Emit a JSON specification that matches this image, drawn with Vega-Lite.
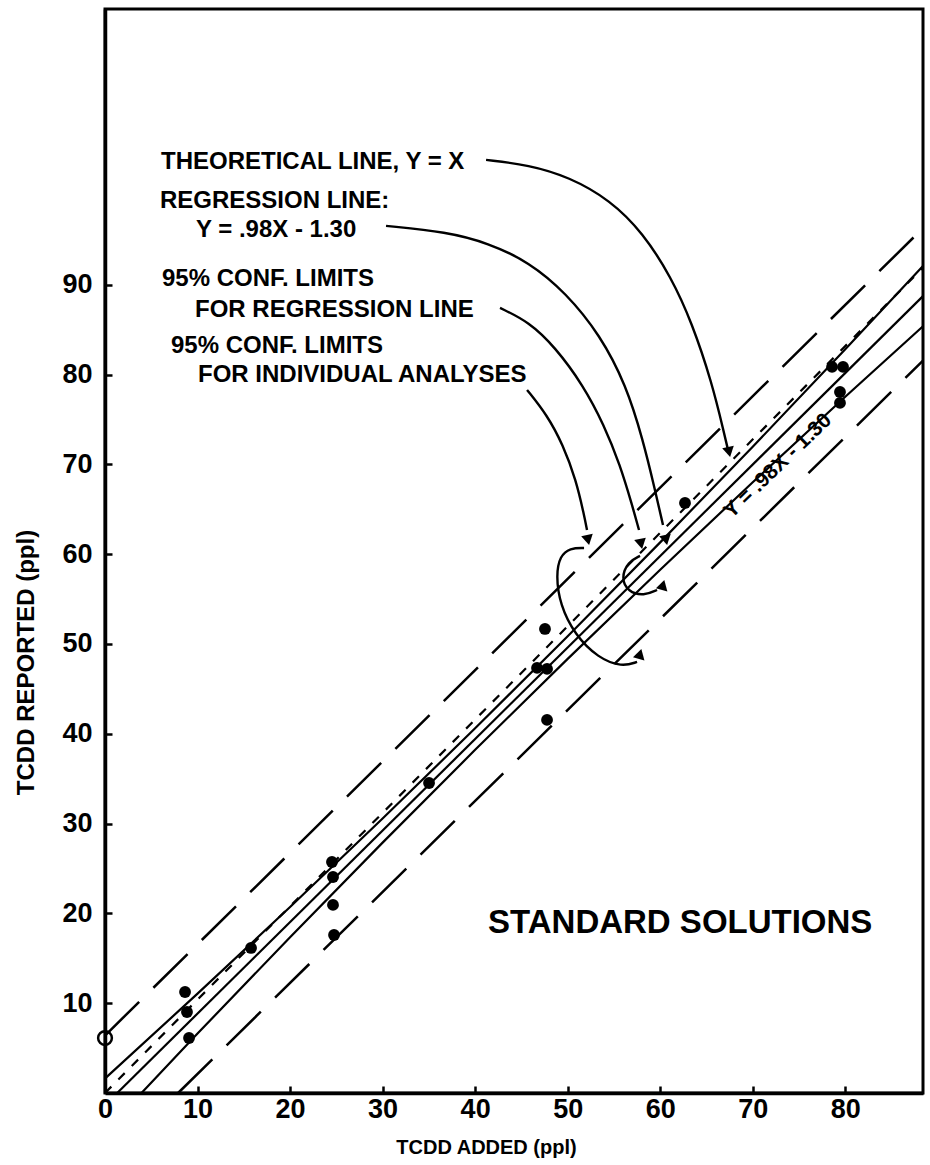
{
  "$schema": "https://vega.github.io/schema/vega-lite/v6.json",
  "width": 818,
  "height": 1084,
  "autosize": {"type": "none"},
  "padding": {"left": 105, "top": 9, "right": 7, "bottom": 72},
  "background": "white",
  "config": {"view": {"stroke": "black", "strokeWidth": 3}, "font": "Liberation Sans"},
  "datasets": {
    "lines": [
      {"series": "theory", "i": 0, "x": 0, "y": 0},
      {"series": "theory", "i": 1, "x": 88.4, "y": 91.9},
      {"series": "regression", "i": 0, "x": 1.32, "y": 0},
      {"series": "regression", "i": 1, "x": 88.4, "y": 88.73},
      {"series": "ucl", "i": 0, "x": 0, "y": 1.61},
      {"series": "ucl", "i": 1, "x": 10, "y": 11.06},
      {"series": "ucl", "i": 2, "x": 20, "y": 20.71},
      {"series": "ucl", "i": 3, "x": 30, "y": 30.56},
      {"series": "ucl", "i": 4, "x": 40, "y": 40.61},
      {"series": "ucl", "i": 5, "x": 50, "y": 50.86},
      {"series": "ucl", "i": 6, "x": 60, "y": 61.31},
      {"series": "ucl", "i": 7, "x": 70, "y": 71.96},
      {"series": "ucl", "i": 8, "x": 80, "y": 82.81},
      {"series": "ucl", "i": 9, "x": 88.4, "y": 92.08},
      {"series": "lcl", "i": 0, "x": 3.94, "y": 0},
      {"series": "lcl", "i": 1, "x": 10, "y": 6.62},
      {"series": "lcl", "i": 2, "x": 20, "y": 17.35},
      {"series": "lcl", "i": 3, "x": 30, "y": 27.88},
      {"series": "lcl", "i": 4, "x": 40, "y": 38.21},
      {"series": "lcl", "i": 5, "x": 50, "y": 48.34},
      {"series": "lcl", "i": 6, "x": 60, "y": 58.27},
      {"series": "lcl", "i": 7, "x": 70, "y": 68.0},
      {"series": "lcl", "i": 8, "x": 80, "y": 77.53},
      {"series": "lcl", "i": 9, "x": 88.4, "y": 85.38},
      {"series": "ui", "i": 0, "x": 0, "y": 6.4},
      {"series": "ui", "i": 1, "x": 88.4, "y": 96.3},
      {"series": "li", "i": 0, "x": 7.9, "y": 0},
      {"series": "li", "i": 1, "x": 88.4, "y": 81.55}
    ],
    "curves": [
      {"curve": "theory", "i": 0, "x": 41.18, "y": 103.9},
      {"curve": "theory", "i": 1, "x": 45.82, "y": 103.34},
      {"curve": "theory", "i": 2, "x": 50.15, "y": 102.0},
      {"curve": "theory", "i": 3, "x": 54.58, "y": 99.44},
      {"curve": "theory", "i": 4, "x": 58.14, "y": 95.77},
      {"curve": "theory", "i": 5, "x": 61.17, "y": 90.87},
      {"curve": "theory", "i": 6, "x": 63.44, "y": 85.75},
      {"curve": "theory", "i": 7, "x": 65.6, "y": 79.06},
      {"curve": "theory", "i": 8, "x": 66.9, "y": 73.5},
      {"curve": "theory", "i": 9, "x": 67.33, "y": 71.6},
      {"curve": "reg", "i": 0, "x": 30.37, "y": 96.55},
      {"curve": "reg", "i": 1, "x": 36.96, "y": 95.88},
      {"curve": "reg", "i": 2, "x": 41.39, "y": 94.65},
      {"curve": "reg", "i": 3, "x": 45.82, "y": 92.54},
      {"curve": "reg", "i": 4, "x": 49.82, "y": 89.09},
      {"curve": "reg", "i": 5, "x": 53.5, "y": 84.41},
      {"curve": "reg", "i": 6, "x": 56.31, "y": 78.84},
      {"curve": "reg", "i": 7, "x": 58.14, "y": 72.72},
      {"curve": "reg", "i": 8, "x": 59.44, "y": 67.15},
      {"curve": "reg", "i": 9, "x": 60.3, "y": 63.25},
      {"curve": "forreg", "i": 0, "x": 42.69, "y": 87.42},
      {"curve": "forreg", "i": 1, "x": 45.82, "y": 85.86},
      {"curve": "forreg", "i": 2, "x": 48.63, "y": 83.07},
      {"curve": "forreg", "i": 3, "x": 51.66, "y": 78.84},
      {"curve": "forreg", "i": 4, "x": 53.93, "y": 74.39},
      {"curve": "forreg", "i": 5, "x": 55.66, "y": 69.93},
      {"curve": "forreg", "i": 6, "x": 56.96, "y": 65.48},
      {"curve": "forreg", "i": 7, "x": 57.71, "y": 62.69},
      {"curve": "indiv", "i": 0, "x": 45.61, "y": 78.29},
      {"curve": "indiv", "i": 1, "x": 47.77, "y": 75.5},
      {"curve": "indiv", "i": 2, "x": 49.5, "y": 72.16},
      {"curve": "indiv", "i": 3, "x": 50.9, "y": 68.26},
      {"curve": "indiv", "i": 4, "x": 51.77, "y": 64.37},
      {"curve": "indiv", "i": 5, "x": 52.09, "y": 62.69},
      {"curve": "indloop", "i": 0, "x": 51.77, "y": 60.69},
      {"curve": "indloop", "i": 1, "x": 50.25, "y": 60.69},
      {"curve": "indloop", "i": 2, "x": 49.17, "y": 59.8},
      {"curve": "indloop", "i": 3, "x": 48.74, "y": 57.68},
      {"curve": "indloop", "i": 4, "x": 49.17, "y": 54.34},
      {"curve": "indloop", "i": 5, "x": 50.79, "y": 51.0},
      {"curve": "indloop", "i": 6, "x": 53.28, "y": 48.44},
      {"curve": "indloop", "i": 7, "x": 55.87, "y": 47.44},
      {"curve": "indloop", "i": 8, "x": 57.5, "y": 48.0},
      {"curve": "regloop", "i": 0, "x": 57.82, "y": 59.8},
      {"curve": "regloop", "i": 1, "x": 56.52, "y": 59.13},
      {"curve": "regloop", "i": 2, "x": 55.77, "y": 57.35},
      {"curve": "regloop", "i": 3, "x": 56.52, "y": 55.79},
      {"curve": "regloop", "i": 4, "x": 58.25, "y": 55.35},
      {"curve": "regloop", "i": 5, "x": 59.66, "y": 56.01}
    ],
    "arrowsDown": [
      {"x": 67.44, "y": 71.38},
      {"x": 60.63, "y": 61.58},
      {"x": 57.93, "y": 61.14},
      {"x": 52.2, "y": 61.58}
    ],
    "arrowsUp": [
      {"x": 57.82, "y": 48.89},
      {"x": 60.3, "y": 56.57}
    ],
    "points": [
      {"x": 8.65, "y": 11.25},
      {"x": 8.86, "y": 9.02},
      {"x": 9.08, "y": 6.12},
      {"x": 15.78, "y": 16.15},
      {"x": 24.53, "y": 25.72},
      {"x": 24.64, "y": 24.05},
      {"x": 24.64, "y": 20.94},
      {"x": 24.75, "y": 17.59},
      {"x": 35.02, "y": 34.52},
      {"x": 46.69, "y": 47.33},
      {"x": 47.77, "y": 47.22},
      {"x": 47.55, "y": 51.67},
      {"x": 47.77, "y": 41.54},
      {"x": 62.68, "y": 65.7},
      {"x": 78.57, "y": 80.85},
      {"x": 79.76, "y": 80.85},
      {"x": 79.43, "y": 78.06},
      {"x": 79.43, "y": 76.84}
    ],
    "open": [{"x": 0, "y": 6.12}],
    "labels": [
      {"x": 6.05, "y": 102.9, "text": "THEORETICAL LINE, Y = X"},
      {"x": 5.94, "y": 98.55, "text": "REGRESSION LINE:"},
      {"x": 9.83, "y": 95.32, "text": "Y = .98X - 1.30"},
      {"x": 6.16, "y": 89.87, "text": "95% CONF. LIMITS"},
      {"x": 9.73, "y": 86.41, "text": "FOR REGRESSION LINE"},
      {"x": 7.13, "y": 82.41, "text": "95% CONF. LIMITS"},
      {"x": 10.05, "y": 79.18, "text": "FOR INDIVIDUAL ANALYSES"}
    ],
    "big": [{"x": 41.39, "y": 17.82, "text": "STANDARD SOLUTIONS"}],
    "rot": [{"x": 72.73, "y": 69.82, "text": "Y = .98X - 1.30"}]
  },
  "encoding": {
    "x": {
      "field": "x", "type": "quantitative",
      "scale": {"domain": [0, 88.4], "nice": false, "zero": false},
      "axis": {
        "values": [0, 10, 20, 30, 40, 50, 60, 70, 80],
        "grid": false, "domain": true, "domainColor": "black", "domainWidth": 3.5,
        "ticks": true, "tickSize": -7, "tickColor": "black", "tickWidth": 2.5,
        "labelFont": "Liberation Sans", "labelFontSize": 27, "labelFontWeight": "bold", "labelColor": "black", "labelPadding": 10,
        "labelFlush": false,
        "title": "TCDD  ADDED  (ppl)", "titleFont": "Liberation Sans", "titleFontSize": 20,
        "titleFontWeight": "bold", "titleColor": "black", "titleX": 381, "titleY": 60,
        "titleBaseline": "alphabetic"
      }
    },
    "y": {
      "field": "y", "type": "quantitative",
      "scale": {"domain": [0, 120.7], "nice": false, "zero": false},
      "axis": {
        "values": [10, 20, 30, 40, 50, 60, 70, 80, 90],
        "grid": false, "domain": true, "domainColor": "black", "domainWidth": 3.5,
        "ticks": true, "tickSize": -7, "tickColor": "black", "tickWidth": 2.5,
        "labelFont": "Liberation Sans", "labelFontSize": 27, "labelFontWeight": "bold", "labelColor": "black", "labelPadding": 20,
        "title": "TCDD   REPORTED   (ppl)", "titleFont": "Liberation Sans", "titleFontSize": 24,
        "titleFontWeight": "bold", "titleColor": "black", "titleX": -72, "titleY": 653,
        "titleBaseline": "alphabetic", "titleAngle": -90
      }
    }
  },
  "layer": [
    {
      "data": {"name": "lines"},
      "transform": [{"filter": "datum.series === 'regression' || datum.series === 'ucl' || datum.series === 'lcl'"}],
      "mark": {"type": "line", "color": "black", "strokeWidth": 2.2, "interpolate": "monotone"},
      "encoding": {"detail": {"field": "series"}, "order": {"field": "i", "type": "quantitative"}}
    },
    {
      "data": {"name": "lines"},
      "transform": [{"filter": "datum.series === 'theory'"}],
      "mark": {"type": "line", "color": "black", "strokeWidth": 2.2, "strokeDash": [9, 10]},
      "encoding": {"detail": {"field": "series"}, "order": {"field": "i", "type": "quantitative"}}
    },
    {
      "data": {"name": "lines"},
      "transform": [{"filter": "datum.series === 'ui' || datum.series === 'li'"}],
      "mark": {"type": "line", "color": "black", "strokeWidth": 2.5, "strokeDash": [48, 20]},
      "encoding": {"detail": {"field": "series"}, "order": {"field": "i", "type": "quantitative"}}
    },
    {
      "data": {"name": "curves"},
      "mark": {"type": "line", "color": "black", "strokeWidth": 2.4, "interpolate": "basis"},
      "encoding": {"detail": {"field": "curve"}, "order": {"field": "i", "type": "quantitative"}}
    },
    {
      "data": {"name": "arrowsDown"},
      "mark": {"type": "point", "shape": "triangle-down", "filled": true, "color": "black", "opacity": 1, "size": 140, "angle": -12}
    },
    {
      "data": {"name": "arrowsUp"},
      "mark": {"type": "point", "shape": "triangle-up", "filled": true, "color": "black", "opacity": 1, "size": 140, "angle": 15}
    },
    {
      "data": {"name": "points"},
      "mark": {"type": "point", "shape": "circle", "filled": true, "color": "black", "opacity": 1, "size": 140}
    },
    {
      "data": {"name": "open"},
      "mark": {"type": "point", "shape": "circle", "filled": false, "color": "black", "opacity": 1, "size": 190, "strokeWidth": 2.5}
    },
    {
      "data": {"name": "labels"},
      "mark": {"type": "text", "align": "left", "baseline": "alphabetic", "font": "Liberation Sans", "fontSize": 24, "fontWeight": "bold", "color": "black"},
      "encoding": {"text": {"field": "text"}}
    },
    {
      "data": {"name": "big"},
      "mark": {"type": "text", "align": "left", "baseline": "alphabetic", "font": "Liberation Sans", "fontSize": 33, "fontWeight": "bold", "color": "black"},
      "encoding": {"text": {"field": "text"}}
    },
    {
      "data": {"name": "rot"},
      "mark": {"type": "text", "align": "center", "baseline": "middle", "font": "Liberation Sans", "fontSize": 21, "fontWeight": "bold", "color": "black", "angle": -44},
      "encoding": {"text": {"field": "text"}}
    }
  ]
}
